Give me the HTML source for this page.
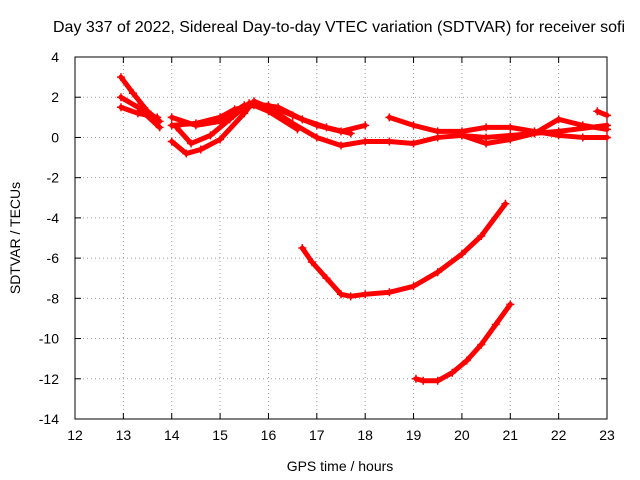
<!DOCTYPE html>
<html><head><meta charset="utf-8"><style>
body{margin:0;background:#fff}
svg{display:block;font-family:"Liberation Sans",sans-serif}
</style></head><body>
<svg id="c" width="640" height="480">
<rect width="640" height="480" fill="#fff"/>
<text x="339" y="32" font-size="16" text-anchor="middle" textLength="572">Day 337 of 2022, Sidereal Day-to-day VTEC variation (SDTVAR) for receiver sofi</text>
<text x="340" y="471" font-size="14" text-anchor="middle">GPS time / hours</text>
<text transform="translate(20,238) rotate(-90)" font-size="14" text-anchor="middle">SDTVAR / TECUs</text>
<g id="grid"></g><g id="marks"></g>
</svg>
<script>
const xTicks=[12,13,14,15,16,17,18,19,20,21,22,23];
const yTicks=[4,2,0,-2,-4,-6,-8,-10,-12,-14];
const trackA=[[12.95,3.0],[13.2,2.2],[13.5,1.3],[13.75,0.8]];
const trackB=[[12.95,2.0],[13.3,1.5],[13.75,0.5]];
const trackC=[[12.95,1.5],[13.3,1.2],[13.7,1.0]];
const trackD=[[14,1.0],[14.5,0.6],[15,0.8],[15.5,1.6],[16,1.6],[16.5,1.1],[17,0.6],[17.5,0.3],[18,0.6]];
const trackE=[[14,-0.2],[14.3,-0.8],[14.6,-0.6],[15,-0.1],[15.5,1.2],[15.7,1.8],[16,1.5],[16.5,0.7],[17,0.0],[17.5,-0.4],[18,-0.2],[18.5,-0.2],[19,-0.3],[19.5,0.0],[20,0.1],[20.5,0.0],[21,0.1],[21.5,0.2],[22,0.3],[23,0.6]];
const trackF=[[14,0.6],[14.5,0.7],[15,1.0],[15.3,1.4],[15.7,1.6],[16,1.3],[16.6,0.4]];
const trackG=[[14.1,0.5],[14.4,-0.3],[14.8,0.1],[15.2,0.9],[15.6,1.7],[16.2,1.5],[16.7,0.9],[17.2,0.5],[17.7,0.2]];
const trackH=[[18.5,1.0],[19,0.6],[19.5,0.3],[20,0.3],[20.5,0.5],[21,0.5],[21.5,0.3],[22,0.1],[22.5,0.0],[23,0.0]];
const trackI=[[20,0.1],[20.5,-0.3],[21,-0.1],[21.5,0.2],[22,0.9],[22.5,0.6],[23,0.4]];
const trackJ=[[22.8,1.3],[23,1.1]];
const trackMid=[[16.7,-5.5],[16.9,-6.2],[17.2,-7.0],[17.5,-7.8],[17.7,-7.9],[18,-7.8],[18.5,-7.7],[19,-7.4],[19.5,-6.7],[20,-5.8],[20.4,-4.9],[20.9,-3.3]];
const trackLow=[[19.05,-12.0],[19.2,-12.1],[19.5,-12.1],[19.8,-11.7],[20.1,-11.1],[20.4,-10.3],[20.7,-9.3],[21,-8.3]];
const tracks=[trackA,trackB,trackC,trackD,trackE,trackF,trackG,trackH,trackI,trackJ,trackMid,trackLow];
const X0=75,X1=607,Y0=57,Y1=419;
const sx=v=>X0+(v-12)/11*(X1-X0);
const sy=v=>Y0+(4-v)/18*(Y1-Y0);
const NS="http://www.w3.org/2000/svg";
const g=document.getElementById('grid'),m=document.getElementById('marks');
function mk(tag,a,p){const e=document.createElementNS(NS,tag);for(const k in a)e.setAttribute(k,a[k]);p.appendChild(e);return e;}
xTicks.forEach(t=>{const x=sx(t);
 if(t>12&&t<23){const l=mk('line',{x1:x,x2:x,y1:Y0,y2:Y1,stroke:'#a0a0a0','stroke-dasharray':'1,3'},g);
 
 }
 mk('line',{x1:x,x2:x,y1:Y1,y2:Y1-6,stroke:'#000'},g);mk('line',{x1:x,x2:x,y1:Y0,y2:Y0+6,stroke:'#000'},g);
 const tx=mk('text',{x:x,y:Y1+21,'font-size':14,'text-anchor':'middle'},g);tx.textContent=t;
 
 
});
yTicks.forEach(t=>{const y=sy(t);
 if(t<4&&t>-14){const l=mk('line',{x1:X0,x2:X1,y1:y,y2:y,stroke:'#a0a0a0','stroke-dasharray':'1,3'},g);
 
 }
 mk('line',{x1:X0,x2:X0+6,y1:y,y2:y,stroke:'#000'},g);mk('line',{x1:X1,x2:X1-6,y1:y,y2:y,stroke:'#000'},g);
 const tx=mk('text',{x:X0-16,y:y+5,'font-size':14,'text-anchor':'end'},g);tx.textContent=t;
 
 
});
const fr=mk('rect',{x:X0,y:Y0,width:X1-X0,height:Y1-Y0,fill:'none',stroke:'#000'},g);


tracks.forEach(tr=>{
 const p=mk('polyline',{points:tr.map(d=>sx(d[0])+','+sy(d[1])).join(' '),fill:'none',stroke:'#f00','stroke-width':5,'stroke-linejoin':'round','stroke-linecap':'round'},m);
 
 
 tr.forEach(d=>{const x=sx(d[0]),y=sy(d[1]);
  const c=mk('path',{d:`M${x-4},${y}H${x+4}M${x},${y-4}V${y+4}`,stroke:'#f00','stroke-width':1.5},m);
  
  
 });
});
</script>
</body></html>
